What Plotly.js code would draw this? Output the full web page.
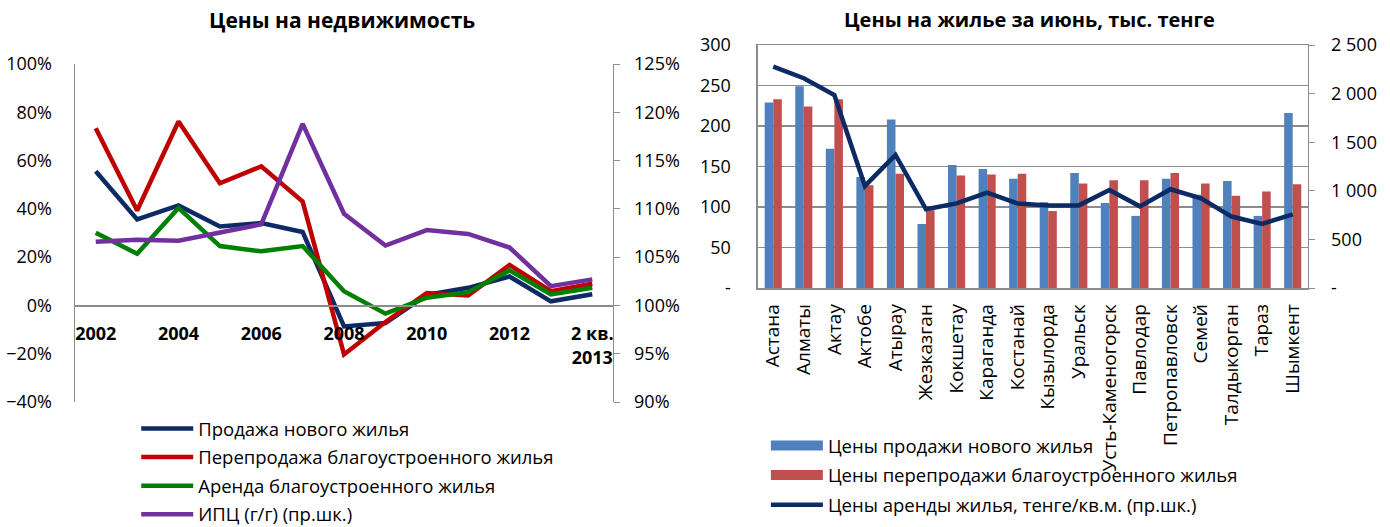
<!DOCTYPE html>
<html><head><meta charset="utf-8">
<script src="https://cdn.plot.ly/plotly-3.0.1.min.js"></script>
<style>html,body{margin:0;padding:0;background:#fff;overflow:hidden}#chart{width:1390px;height:560px}</style>
</head><body><div id="chart"></div>
<script>
// ---- Left chart data ----
const years = ['2002','2003','2004','2005','2006','2007','2008','2009','2010','2011','2012','2013','2 кв. 2013'];
const yearTickVals = ['2002','2004','2006','2008','2010','2012','2 кв. 2013'];
const yearTickText = ['2002','2004','2006','2008','2010','2012','2 кв.<br>2013'];
const newSales = [0.556,0.356,0.414,0.327,0.341,0.304,-0.087,-0.073,0.044,0.073,0.120,0.017,0.046];
const resale   = [0.734,0.393,0.762,0.506,0.576,0.430,-0.203,-0.069,0.051,0.041,0.168,0.059,0.090];
const rentYoY  = [0.301,0.214,0.404,0.246,0.224,0.246,0.059,-0.034,0.032,0.055,0.145,0.046,0.073];
const cpi      = [1.066,1.068,1.067,1.076,1.084,1.188,1.095,1.062,1.078,1.074,1.060,1.020,1.027];

// ---- Right chart data ----
const cities = ['Астана','Алматы','Актау','Актобе','Атырау','Жезказган','Кокшетау','Караганда','Костанай','Кызылорда','Уральск','Усть-Каменогорск','Павлодар','Петропавловск','Семей','Талдыкорган','Тараз','Шымкент'];
const newPrice    = [229,249,172,137,208,79,152,147,135,106,142,105,89,135,115,132,89,216];
const resalePrice = [233,224,233,127,141,96,139,140,141,95,129,133,133,142,129,114,119,128];
const rentPrice   = [2277,2158,1986,1050,1369,810,871,981,870,850,850,1008,840,1016,923,735,660,758];
const leftTickVals = [0,50,100,150,200,250,300];
const leftTickText = ['-','50','100','150','200','250','300'];
const rightTickVals = [0,500,1000,1500,2000,2500];
const rightTickText = ['-','500','1 000','1 500','2 000','2 500'];

const FONT = '"Open Sans", Roboto, sans-serif';
const AX = '#8c8c8c';
const H = 560;               // figure is taller than the window; extra rows are off-screen
const py = p => 1 - p / H;   // pixel row -> paper fraction

const traces = [
  {x: years, y: newSales, type:'scatter', mode:'lines', name:'Продажа нового жилья', line:{color:'#0c2a63', width:4.5}, xaxis:'x', yaxis:'y', legend:'legend', legendgroup:'a'},
  {x: years, y: resale, type:'scatter', mode:'lines', name:'Перепродажа благоустроенного жилья', line:{color:'#c00000', width:4.5}, xaxis:'x', yaxis:'y', legend:'legend', legendgroup:'b'},
  {x: years, y: rentYoY, type:'scatter', mode:'lines', name:'Аренда благоустроенного жилья', line:{color:'#008000', width:4.5}, xaxis:'x', yaxis:'y', legend:'legend', legendgroup:'c'},
  {x: years, y: cpi, type:'scatter', mode:'lines', name:'ИПЦ (г/г) (пр.шк.)', line:{color:'#7030a0', width:4.5}, xaxis:'x', yaxis:'y2', legend:'legend', legendgroup:'d'},
  {x: cities, y: newPrice, type:'bar', name:'Цены продажи нового жилья', marker:{color:'#4f81bd'}, xaxis:'x3', yaxis:'y3', showlegend:false},
  {x: cities, y: resalePrice, type:'bar', name:'Цены перепродажи благоустроенного жилья', marker:{color:'#c0504d'}, xaxis:'x3', yaxis:'y3', showlegend:false},
  {x: cities, y: rentPrice, type:'scatter', mode:'lines', name:'Цены аренды жилья, тенге/кв.м. (пр.шк.)', line:{color:'#0c2a63', width:4.5}, xaxis:'x3', yaxis:'y4', showlegend:false},
  // legend entries for the right chart (wide swatches like the original)
  {x:[null], y:[null], type:'scatter', mode:'lines', name:'Цены продажи нового жилья', line:{color:'#4f81bd', width:12}, xaxis:'x3', yaxis:'y3', legend:'legend2', legendgroup:'e'},
  {x:[null], y:[null], type:'scatter', mode:'lines', name:'Цены перепродажи благоустроенного жилья', line:{color:'#c0504d', width:12}, xaxis:'x3', yaxis:'y3', legend:'legend2', legendgroup:'f'},
  {x:[null], y:[null], type:'scatter', mode:'lines', name:'Цены аренды жилья, тенге/кв.м. (пр.шк.)', line:{color:'#0c2a63', width:4.5}, xaxis:'x3', yaxis:'y4', legend:'legend2', legendgroup:'g'}
];

const layout = {
  width:1390, height:H,
  margin:{l:0, r:0, t:0, b:0},
  paper_bgcolor:'#fff', plot_bgcolor:'rgba(0,0,0,0)',
  font:{family:FONT, size:18, color:'#000'},
  barmode:'group', bargap:0.44, bargroupgap:0,
  xaxis:{domain:[0.054,0.441], anchor:'free', position:py(305), type:'category', range:[-0.5,12.5],
         tickvals:yearTickVals, ticktext:yearTickText, tickfont:{size:18, weight:'bold'},
         showline:true, linecolor:AX, linewidth:1.5, ticks:'', showgrid:false, zeroline:false, ticklabelstandoff:12},
  yaxis:{domain:[py(402), py(64)], anchor:'x', range:[-0.4,1.0], dtick:0.2, tickformat:'.0%',
         showline:true, linecolor:AX, linewidth:1.5, showgrid:false, zeroline:false, ticks:'', ticklabelstandoff:18, tickfont:{size:18}},
  yaxis2:{overlaying:'y', side:'right', anchor:'x', range:[0.9,1.25], dtick:0.05, tickformat:'.0%',
         showline:true, linecolor:AX, linewidth:1.5, showgrid:false, zeroline:false, ticks:'outside', ticklen:6, tickcolor:AX, ticklabelstandoff:10, tickfont:{size:18}},
  xaxis3:{domain:[0.5453,0.9410], anchor:'y3', type:'category', tickangle:-90,
         showline:true, mirror:true, linecolor:AX, linewidth:1.5, ticks:'', showgrid:false, zeroline:false, ticklabelstandoff:7, tickfont:{size:19}},
  yaxis3:{domain:[py(288), py(45)], anchor:'x3', range:[0,300], tickvals:leftTickVals, ticktext:leftTickText,
         showline:true, linecolor:AX, linewidth:1.5, showgrid:true, gridcolor:AX, gridwidth:1.2, zeroline:false, ticks:'', ticklabelstandoff:22, tickfont:{size:18}},
  yaxis4:{overlaying:'y3', side:'right', anchor:'x3', range:[0,2500], tickvals:rightTickVals, ticktext:rightTickText,
         showline:true, linecolor:AX, linewidth:1.5, showgrid:false, zeroline:false, ticks:'outside', ticklen:6, tickcolor:AX, ticklabelstandoff:12, tickfont:{size:18}},
  legend:{x:0.098, y:py(410), xanchor:'left', yanchor:'top', bgcolor:'rgba(0,0,0,0)', font:{size:18.5}, tracegroupgap:1.5, itemwidth:52},
  legend2:{x:0.551, y:py(427), xanchor:'left', yanchor:'top', bgcolor:'rgba(0,0,0,0)', font:{size:18.5}, tracegroupgap:2.5, itemwidth:52},
  annotations:[
    {text:'<b>Цены на недвижимость</b>', xref:'paper', yref:'paper', x:0.246, y:py(20), xanchor:'center', yanchor:'middle', showarrow:false, font:{size:21}},
    {text:'<b>Цены на жилье за июнь, тыс. тенге</b>', xref:'paper', yref:'paper', x:0.741, y:py(20), xanchor:'center', yanchor:'middle', showarrow:false, font:{size:20}}
  ]
};

Plotly.newPlot('chart', traces, layout, {displayModeBar:false, staticPlot:true});
</script></body></html>
